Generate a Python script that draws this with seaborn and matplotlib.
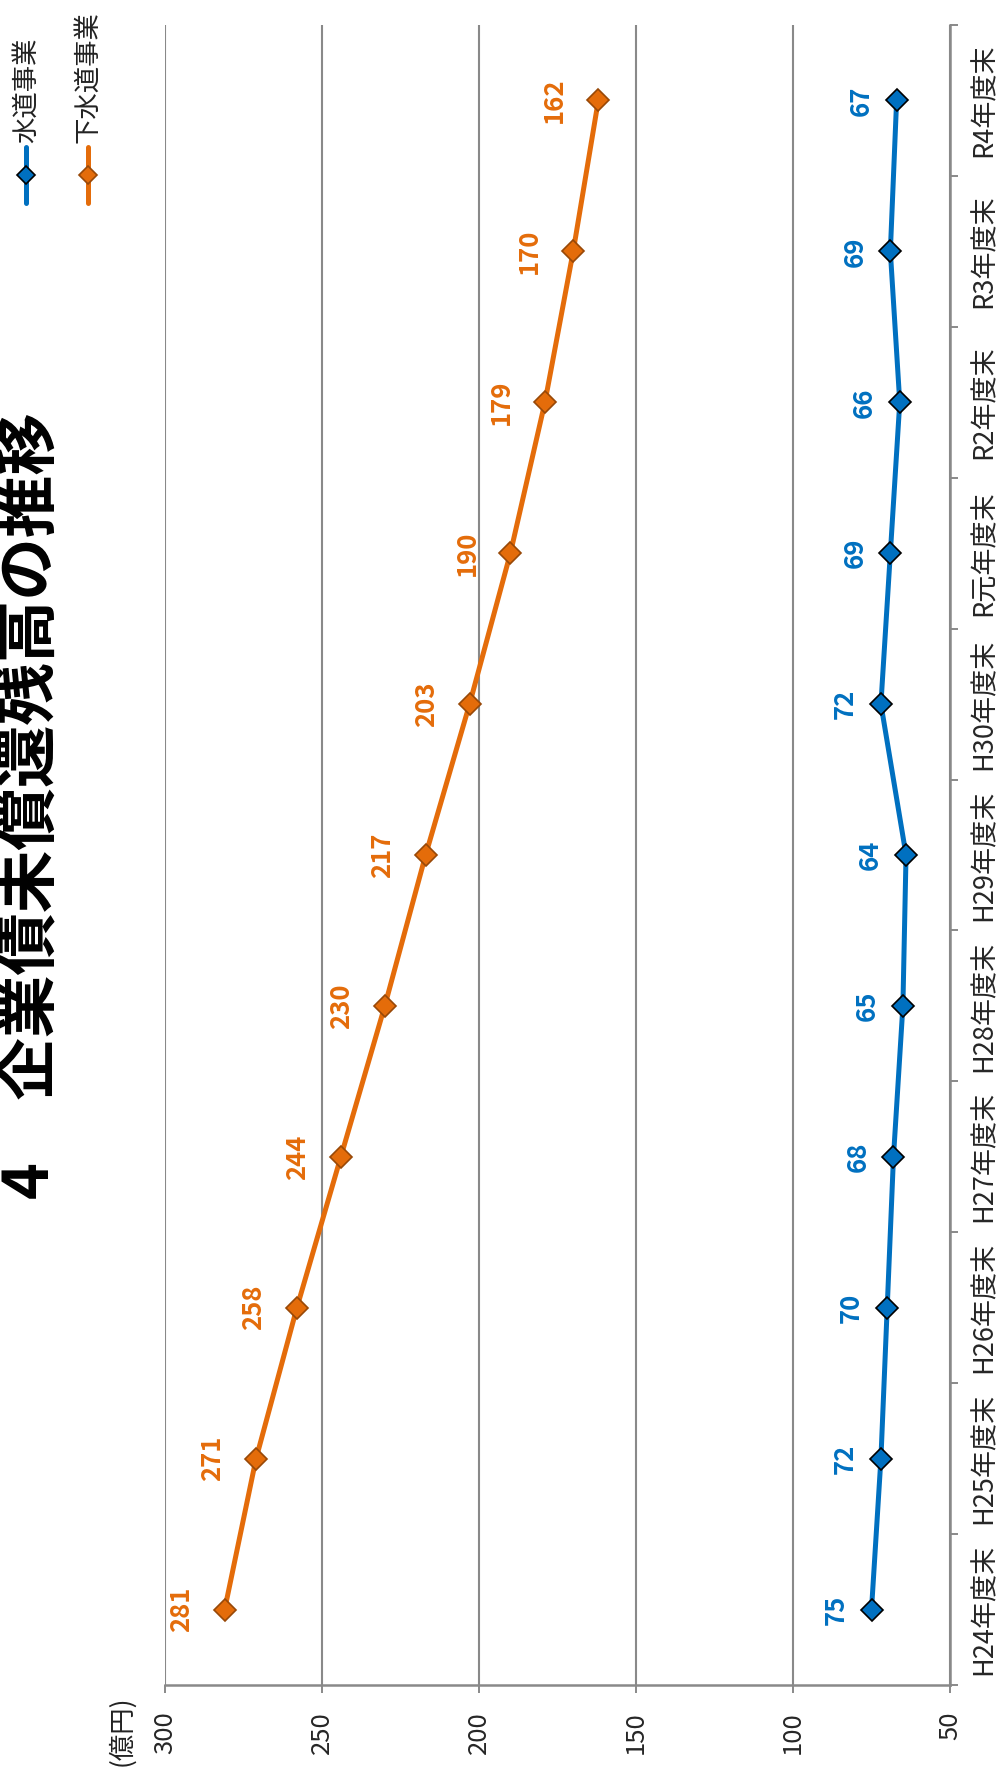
import matplotlib
matplotlib.use("Agg")
import matplotlib.pyplot as plt
from matplotlib.lines import Line2D
import seaborn as sns
import pandas as pd

# ---- data ----
categories = ["H24年度末", "H25年度末", "H26年度末", "H27年度末", "H28年度末",
              "H29年度末", "H30年度末", "R元年度末", "R2年度末", "R3年度末", "R4年度末"]
water = [75, 72, 70, 68, 65, 64, 72, 69, 66, 69, 67]          # 水道事業
sewer = [281, 271, 258, 244, 230, 217, 203, 190, 179, 170, 162]  # 下水道事業
value_ticks = [300, 250, 200, 150, 100, 50]
series_names = ["水道事業", "下水道事業"]
title_text = "4　企業債未償還残高の推移"
unit_text = "(億円)"

BLUE = "#0070C0"
ORANGE = "#E46C0A"
ORANGE_EDGE = "#984807"
GRID = "#898989"

sns.set_theme(style="white")
plt.rcParams["font.family"] = ["Noto Sans CJK JP", "DejaVu Sans"]

W, H = 1000, 1773
fig = plt.figure(figsize=(W / 100, H / 100), dpi=100)
ax = fig.add_axes([165 / W, 1 - 1685 / H, (950 - 165) / W, (1685 - 25) / H])

df_w = pd.DataFrame({"cat": categories, "val": water})
df_s = pd.DataFrame({"cat": categories, "val": sewer})

sns.pointplot(data=df_s, x="val", y="cat", order=categories, orient="h",
              color=ORANGE, markers="D", linestyles="-", errorbar=None,
              markersize=11.5, markeredgecolor=ORANGE_EDGE, markeredgewidth=1.2,
              linewidth=3.6, ax=ax)
sns.pointplot(data=df_w, x="val", y="cat", order=categories, orient="h",
              color=BLUE, markers="D", linestyles="-", errorbar=None,
              markersize=11.5, markeredgecolor="black", markeredgewidth=1.2,
              linewidth=3.6, ax=ax)

ax.set_xlim(300, 50)
ax.set_ylim(-0.5, len(categories) - 0.5)
ax.set_xlabel("")
ax.set_ylabel("")

# value axis
ax.set_xticks(value_ticks)
ax.set_xticklabels([str(v) for v in value_ticks])
ax.tick_params(axis="x", which="major", bottom=True, length=5.8, width=1.4,
               color=GRID, pad=13, labelsize=18.5, labelrotation=90)
for lb in ax.get_xticklabels():
    lb.set_ha("center")
    lb.set_va("top")
ax.xaxis.grid(True, color=GRID, linewidth=1.5)
ax.yaxis.grid(False)

# category axis (ticks between categories, labels at centers)
n = len(categories)
ax.set_yticks([i - 0.5 for i in range(n + 1)])
ax.set_yticklabels([])
ax.set_yticks(list(range(n)), minor=True)
ax.set_yticklabels(categories, minor=True)
ax.tick_params(axis="y", which="major", left=False, right=True, length=5.8,
               width=1.4, color=GRID, labelleft=False, labelright=False)
ax.tick_params(axis="y", which="minor", left=False, right=False, length=0,
               labelleft=False, labelright=True, pad=15, labelsize=19.5)
for lb in ax.get_yticklabels(minor=True):
    lb.set_rotation(90)
    lb.set_ha("left")
    lb.set_va("center")

for s in ["top", "left"]:
    ax.spines[s].set_visible(False)
for s in ["right", "bottom"]:
    ax.spines[s].set_color(GRID)
    ax.spines[s].set_linewidth(1.8)
ax.set_axisbelow(True)

# data labels
for i, v in enumerate(sewer):
    ax.annotate(str(v), xy=(v, i), xytext=(-30, 0), textcoords="offset pixels",
                rotation=90, ha="right", va="center", color=ORANGE,
                fontsize=18.5, fontweight="bold")
for i, v in enumerate(water):
    ax.annotate(str(v), xy=(v, i), xytext=(-22, 0), textcoords="offset pixels",
                rotation=90, ha="right", va="center", color=BLUE,
                fontsize=18.5, fontweight="bold")

# title and unit
fig.text(62 / W, 1 - 806 / H, title_text, rotation=90, ha="right", va="center",
         fontsize=45, fontweight="bold", color="black")
fig.text(122 / W, 1 - 1731 / H, unit_text, rotation=90, ha="center", va="center",
         fontsize=19, color="#222222")

# legend (rotated)
for xpx, name, col, ec in [(26, series_names[0], BLUE, "black"),
                           (88, series_names[1], ORANGE, ORANGE_EDGE)]:
    fig.add_artist(Line2D([xpx / W, xpx / W], [1 - 147 / H, 1 - 203 / H],
                          transform=fig.transFigure, color=col, linewidth=3.6))
    fig.add_artist(Line2D([xpx / W], [1 - 175 / H], transform=fig.transFigure,
                          marker="D", markersize=9, color=col,
                          markeredgecolor=ec, markeredgewidth=1.2, linestyle="none"))
    fig.text(xpx / W, 1 - 143 / H, name, rotation=90, ha="center", va="bottom",
             fontsize=19, color="#222222")

fig.savefig("out.png", dpi=100)
